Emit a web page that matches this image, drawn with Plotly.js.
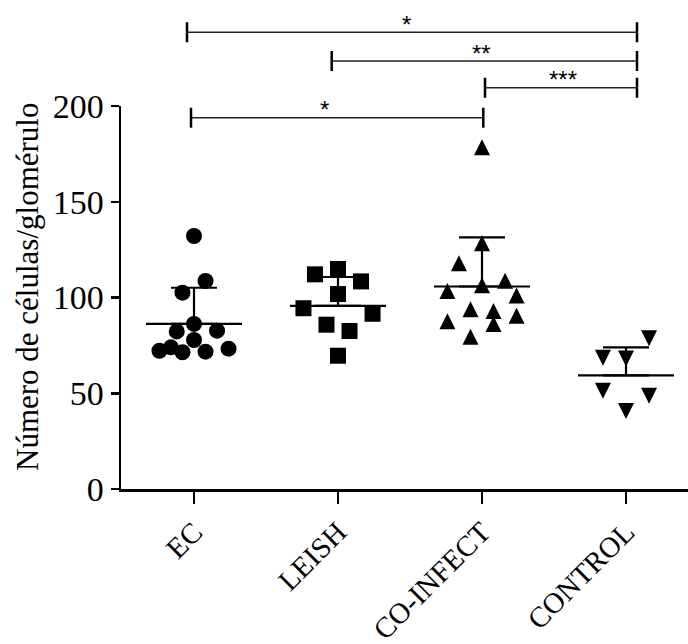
<!DOCTYPE html>
<html>
<head>
<meta charset="utf-8">
<script src="https://cdn.plot.ly/plotly-3.0.1.min.js"></script>
<style>html,body{margin:0;padding:0;background:#fff;}#chart{width:688px;height:644px;}</style>
</head>
<body>
<div id="chart"></div>
<script>
// ---- data ----
var categories = ["EC", "LEISH", "CO-INFECT", "CONTROL"];
var ecValues = [132.1, 108.6, 102.5, 86.2, 82.3, 82.7, 77.8, 74.0, 72.2, 71.4, 71.7, 73.3];
var leishValues = [114.9, 112.1, 108.4, 101.8, 94.4, 91.5, 85.8, 82.5, 69.6];
var coinfectValues = [178.4, 128.3, 117.9, 108.8, 106.4, 103.4, 101.0, 93.8, 93.0, 90.5, 87.6, 86.2, 79.5];
var controlValues = [78.7, 68.6, 68.2, 51.3, 48.7, 40.7];
var yTickVals = [0, 50, 100, 150, 200];
// horizontal spread of the dots (in steps)
var ecSpread = [0, 1, -1, 0, -1.5, 2, 0, -2, -3, -1, 1, 3];
var leishSpread = [0, -2, 2, 0, -3, 3, -1, 1, 0];
var coinfectSpread = [0, 0, -2, 2, 0, -3, 3, -1, 1, 3, -3, 1, -1];
var controlSpread = [2, -2, 0, -2, 2, 0];
var comparisons = [
  {from: "EC", to: "CONTROL", label: "*"},
  {from: "LEISH", to: "CONTROL", label: "**"},
  {from: "CO-INFECT", to: "CONTROL", label: "***"},
  {from: "EC", to: "CO-INFECT", label: "*"}
];

// ---- layout geometry ----
var W = 688, H = 644;
var M = {l: 121, r: 0, t: 106, b: 155};
var plotW = W - M.l - M.r, plotH = H - M.t - M.b;
function pxX(px) { return (px - M.l) / plotW; }
function pxY(py) { return (H - M.b - py) / plotH; }
var step = 0.08;
var serif = "Liberation Serif, Times New Roman, serif";

function mean(a) { return a.reduce(function (s, v) { return s + v; }, 0) / a.length; }
function sd(a) { var m = mean(a); return Math.sqrt(a.reduce(function (s, v) { return s + (v - m) * (v - m); }, 0) / (a.length - 1)); }

var groups = [
  {vals: ecValues, spread: ecSpread, symbol: "circle", angle: 0, standoff: 0},
  {vals: leishValues, spread: leishSpread, symbol: "square", angle: 0, standoff: 0},
  {vals: coinfectValues, spread: coinfectSpread, symbol: "arrow-down", angle: 180, standoff: 8},
  {vals: controlValues, spread: controlSpread, symbol: "arrow-down", angle: 0, standoff: 8}
];

var traces = [];
groups.forEach(function (g, i) {
  traces.push({
    type: "scatter", mode: "markers",
    x: g.spread.map(function (s) { return i + s * step; }),
    y: g.vals,
    marker: {symbol: g.symbol, size: 16, color: "#000", angle: g.angle, standoff: g.standoff, line: {width: 0}},
    hoverinfo: "y", showlegend: false
  });
});
// mean + SD
traces.push({
  type: "scatter", mode: "markers",
  x: [0, 1, 2, 3],
  y: groups.map(function (g) { return mean(g.vals); }),
  marker: {symbol: "line-ew", size: 68.6, color: "#000", line: {width: 2.2, color: "#000"}},
  error_y: {
    type: "data", symmetric: false,
    array: groups.map(function (g) { return sd(g.vals); }),
    arrayminus: [0, 0, 0, 0],
    width: 23, thickness: 2.2, color: "#000"
  },
  hoverinfo: "y", showlegend: false
});

// brackets (pixel positions of the reference)
var catPx = [194, 338, 482, 626];
var bracketRows = [32.3, 61, 87.7, 117.7];
var bracketEnds = [[187, 637], [331.7, 637], [485, 637], [191, 483.3]];
var starX = [406, 481, 563, 324];
var shapes = [], annotations = [];
comparisons.forEach(function (c, k) {
  var yl = pxY(bracketRows[k]);
  var x0 = pxX(bracketEnds[k][0]), x1 = pxX(bracketEnds[k][1]);
  var dh = 10 / plotH;
  shapes.push({type: "line", xref: "paper", yref: "paper", x0: x0, x1: x1, y0: yl, y1: yl, line: {color: "#222", width: 1.6}});
  shapes.push({type: "line", xref: "paper", yref: "paper", x0: x0, x1: x0, y0: yl - dh, y1: yl + dh, line: {color: "#000", width: 2.5}});
  shapes.push({type: "line", xref: "paper", yref: "paper", x0: x1, x1: x1, y0: yl - dh, y1: yl + dh, line: {color: "#000", width: 2.5}});
  annotations.push({
    xref: "paper", yref: "paper", x: pxX(starX[k]), y: pxY(bracketRows[k] - 8),
    xanchor: "center", yanchor: "middle", text: c.label, showarrow: false,
    font: {family: "Liberation Sans, Arial, sans-serif", size: 24, color: "#000"}
  });
});
annotations.push({
  xref: "paper", yref: "paper", x: pxX(27), y: pxY(287), textangle: -90,
  xanchor: "center", yanchor: "middle", showarrow: false,
  text: "Número de células/glomérulo",
  font: {family: serif, size: 31, color: "#000"}
});

var layout = {
  width: W, height: H, margin: M,
  paper_bgcolor: "#fff", plot_bgcolor: "#fff",
  showlegend: false,
  xaxis: {
    range: [(M.l - catPx[0]) / 144, (W - M.r - catPx[0]) / 144],
    tickmode: "array", tickvals: [0, 1, 2, 3], ticktext: categories,
    tickangle: -45, ticks: "outside", ticklen: 12, tickwidth: 2.5, tickcolor: "#000",
    showline: true, linewidth: 2.5, linecolor: "#000",
    showgrid: false, zeroline: false,
    tickfont: {family: serif, size: 29, color: "#000"}
  },
  yaxis: {
    range: [0, 200], tickmode: "array", tickvals: yTickVals,
    ticks: "outside", ticklen: 8, tickwidth: 2.5, tickcolor: "#000",
    showline: true, linewidth: 2.5, linecolor: "#000",
    showgrid: false, zeroline: false,
    tickfont: {family: serif, size: 34, color: "#000"}
  },
  shapes: shapes,
  annotations: annotations
};

Plotly.newPlot("chart", traces, layout, {staticPlot: true, displayModeBar: false});
</script>
</body>
</html>
